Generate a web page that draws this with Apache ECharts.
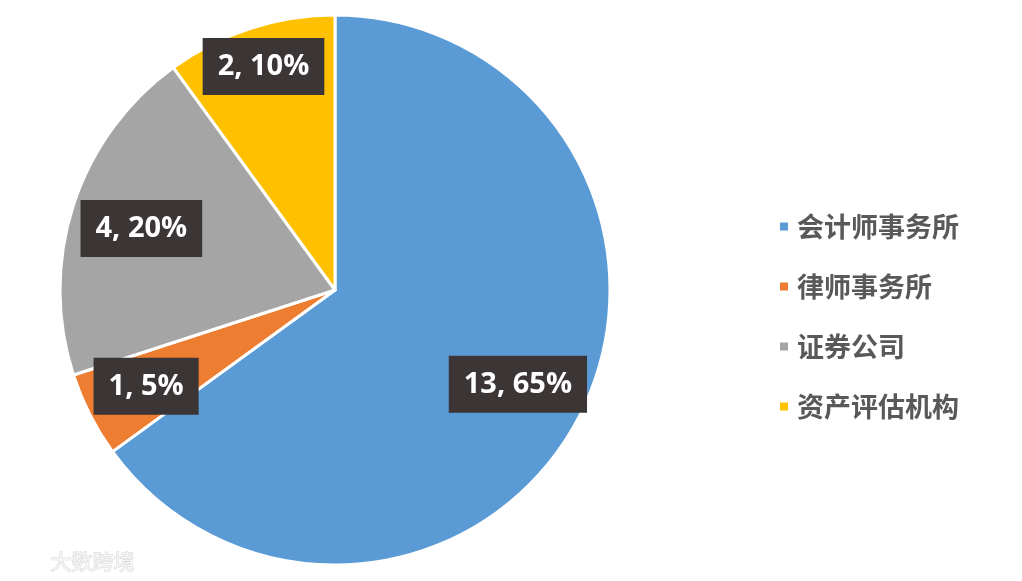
<!DOCTYPE html>
<html>
<head>
<meta charset="utf-8">
<script src="https://cdn.jsdelivr.net/npm/echarts@6/dist/echarts.min.js"></script>
<style>
html,body{margin:0;padding:0;background:#fff;}
#c{width:1022px;height:581px;}
</style>
</head>
<body>
<div id="c"></div>
<script>
var categories = ['会计师事务所', '律师事务所', '证券公司', '资产评估机构'];
var values = [13, 1, 4, 2];
var colors = ['#5B9BD5', '#ED7D31', '#A5A5A5', '#FFC000'];

var total = values.reduce(function (a, b) { return a + b; }, 0);
var data = categories.map(function (n, i) { return { name: n, value: values[i] }; });

var chart = echarts.init(document.getElementById('c'));
var R = 275;
chart.setOption({
  animation: false,
  color: colors,
  legend: {
    orient: 'vertical',
    left: 773,
    top: 205,
    icon: 'rect',
    itemWidth: 10,
    itemHeight: 10,
    itemGap: 27,
    data: categories,
    textStyle: {
      color: '#595959',
      fontSize: 27,
      lineHeight: 33,
      fontWeight: 'bold',
      fontFamily: 'Noto Sans CJK SC',
      padding: [0, 0, 0, 3]
    }
  },
  graphic: [{
    type: 'text',
    left: 50,
    top: 550,
    style: {
      text: '大数跨境',
      fill: '#f6f6f6',
      stroke: '#d4d4d4',
      lineWidth: 1,
      fontSize: 21,
      fontFamily: 'Noto Sans CJK SC'
    }
  }],
  series: [{
    type: 'pie',
    center: [335, 290],
    radius: [0, R],
    startAngle: 90,
    clockwise: true,
    data: data,
    label: { show: false },
    labelLine: { show: false },
    itemStyle: { borderColor: '#fff', borderWidth: 3 },
    emphasis: { disabled: true }
  }, {
    type: 'pie',
    center: [335, 290],
    radius: [R * 0.52, R],
    startAngle: 90,
    clockwise: true,
    silent: true,
    data: data,
    itemStyle: { color: 'rgba(0,0,0,0)' },
    labelLine: { show: false },
    label: {
      show: true,
      position: 'inside',
      formatter: function (p) {
        return p.value + ', ' + Math.round(p.value / total * 100) + '%';
      },
      color: '#ffffff',
      fontSize: 29,
      fontWeight: 'bold',
      fontFamily: 'Open Sans',
      backgroundColor: '#3B3535',
      padding: [14, 15, 14, 15]
    },
    labelLayout: function (params) {
      if (params.dataIndex === 3) {
        return { dx: -6, dy: -22 };
      }
      if (params.dataIndex === 2) {
        return { dx: 8, dy: 4 };
      }
      if (params.dataIndex === 0) {
        return { dx: -6, dy: -2 };
      }
      return {};
    },
    emphasis: { disabled: true }
  }]
});
</script>
</body>
</html>
